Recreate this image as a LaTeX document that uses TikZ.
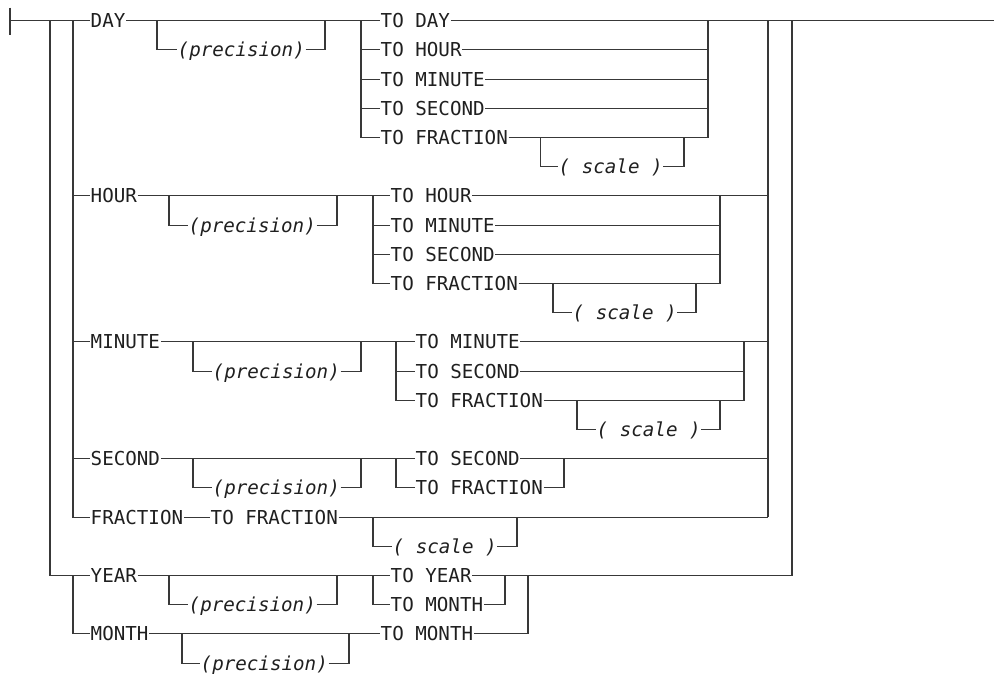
\documentclass[tikz,border=0pt]{standalone}
\usepackage{fontspec}
\newfontfamily\railfont{DejaVu Sans Mono}
\usetikzlibrary{calc}

\begin{document}
\begin{tikzpicture}[
    x=1pt, y=-29.2pt,
    every node/.style={font=\fontsize{19.2}{19.2}\selectfont\railfont, text=black!88},
    kw/.style={anchor=west, inner xsep=0.5pt, inner ysep=0pt,
               text height=14pt, text depth=0pt},
    var/.style={kw, font=\fontsize{19.2}{19.2}\selectfont\railfont\itshape},
    rail/.style={line width=1.1pt, draw=black!78}
]
\useasboundingbox (0,-0.709) rectangle (994,22.408);

% DAY group
\node[kw]  (day)    at (90,0)   {DAY};
\node[var] (dayp)   at (177,1)  {(precision)};
\node[kw]  (dtday)  at (380,0)  {TO DAY};
\node[kw]  (dthour) at (380,1)  {TO HOUR};
\node[kw]  (dtmin)  at (380,2)  {TO MINUTE};
\node[kw]  (dtsec)  at (380,3)  {TO SECOND};
\node[kw]  (dtfrac) at (380,4)  {TO FRACTION};
\node[var] (dscale) at (558,5)  {( scale )};

% HOUR group
\node[kw]  (hour)   at (90,6)   {HOUR};
\node[var] (hourp)  at (188,7)  {(precision)};
\node[kw]  (hthour) at (390,6)  {TO HOUR};
\node[kw]  (htmin)  at (390,7)  {TO MINUTE};
\node[kw]  (htsec)  at (390,8)  {TO SECOND};
\node[kw]  (htfrac) at (390,9)  {TO FRACTION};
\node[var] (hscale) at (572,10) {( scale )};

% MINUTE group
\node[kw]  (minute) at (90,11)  {MINUTE};
\node[var] (minp)   at (212,12) {(precision)};
\node[kw]  (mtmin)  at (415,11) {TO MINUTE};
\node[kw]  (mtsec)  at (415,12) {TO SECOND};
\node[kw]  (mtfrac) at (415,13) {TO FRACTION};
\node[var] (mscale) at (596,14) {( scale )};

% SECOND group
\node[kw]  (second) at (90,15)  {SECOND};
\node[var] (secp)   at (212,16) {(precision)};
\node[kw]  (stsec)  at (415,15) {TO SECOND};
\node[kw]  (stfrac) at (415,16) {TO FRACTION};

% FRACTION row
\node[kw]  (frac)   at (90,17)  {FRACTION};
\node[kw]  (ftfrac) at (210,17) {TO FRACTION};
\node[var] (fscale) at (392,18) {( scale )};

% YEAR / MONTH group
\node[kw]  (year)   at (90,19)  {YEAR};
\node[var] (yearp)  at (188,20) {(precision)};
\node[kw]  (ytyear) at (390,19) {TO YEAR};
\node[kw]  (ytmon)  at (390,20) {TO MONTH};
\node[kw]  (month)  at (90,21)  {MONTH};
\node[var] (monp)   at (200,22) {(precision)};
\node[kw]  (motmon) at (380,21) {TO MONTH};

% spine and outer choice
\draw[rail] (10,-0.45) -- (10,0.5);
\draw[rail] (10,0) -- (day.west);
\draw[rail] (dtday.east) -- (994,0);
\draw[rail] (50,0) |- (year.west);
\draw[rail] (792,0) |- (528,19);

% inner choice
\draw[rail] (73,0) |- (frac.west);
\draw[rail] (73,6) -- (hour.west);
\draw[rail] (73,11) -- (minute.west);
\draw[rail] (73,15) -- (second.west);
\draw[rail] (768,0) -- (768,17);

% DAY
\draw[rail] (day.east) -- (dtday.west);
\draw[rail] (157,0) |- (dayp.west);
\draw[rail] (dayp.east) -| (325,0);
\draw[rail] (361,0) |- (dtfrac.west);
\foreach \n/\r in {dthour/1, dtmin/2, dtsec/3} {
    \draw[rail] (361,\r) -- (\n.west);
    \draw[rail] (\n.east) -- (708,\r);
}
\draw[rail] (dtfrac.east) -| (708,0);
\draw[rail] (540.7,4) |- (dscale.west);
\draw[rail] (dscale.east) -| (684,4);

% HOUR
\draw[rail] (hour.east) -- (hthour.west);
\draw[rail] (169,6) |- (hourp.west);
\draw[rail] (hourp.east) -| (337,6);
\draw[rail] (373,6) |- (htfrac.west);
\foreach \n/\r in {htmin/7, htsec/8} {
    \draw[rail] (373,\r) -- (\n.west);
    \draw[rail] (\n.east) -- (720,\r);
}
\draw[rail] (hthour.east) -- (768,6);
\draw[rail] (htfrac.east) -| (720,6);
\draw[rail] (553,9) |- (hscale.west);
\draw[rail] (hscale.east) -| (696,9);

% MINUTE
\draw[rail] (minute.east) -- (mtmin.west);
\draw[rail] (193,11) |- (minp.west);
\draw[rail] (minp.east) -| (361,11);
\draw[rail] (396,11) |- (mtfrac.west);
\draw[rail] (396,12) -- (mtsec.west);
\draw[rail] (mtsec.east) -- (744,12);
\draw[rail] (mtmin.east) -- (768,11);
\draw[rail] (mtfrac.east) -| (744,11);
\draw[rail] (577,13) |- (mscale.west);
\draw[rail] (mscale.east) -| (720,13);

% SECOND
\draw[rail] (second.east) -- (stsec.west);
\draw[rail] (193,15) |- (secp.west);
\draw[rail] (secp.east) -| (361,15);
\draw[rail] (396,15) |- (stfrac.west);
\draw[rail] (stsec.east) -- (768,15);
\draw[rail] (stfrac.east) -| (564,15);

% FRACTION
\draw[rail] (frac.east) -- (ftfrac.west);
\draw[rail] (ftfrac.east) -- (768,17);
\draw[rail] (373,17) |- (fscale.west);
\draw[rail] (fscale.east) -| (517,17);

% YEAR / MONTH
\draw[rail] (73,19) |- (month.west);
\draw[rail] (year.east) -- (ytyear.west);
\draw[rail] (169,19) |- (yearp.west);
\draw[rail] (yearp.east) -| (337,19);
\draw[rail] (373,19) |- (ytmon.west);
\draw[rail] (ytyear.east) -- (528,19);
\draw[rail] (ytmon.east) -| (505,19);
\draw[rail] (month.east) -- (motmon.west);
\draw[rail] (182,21) |- (monp.west);
\draw[rail] (monp.east) -| (349,21);
\draw[rail] (motmon.east) -| (528,19);
\end{tikzpicture}
\end{document}
